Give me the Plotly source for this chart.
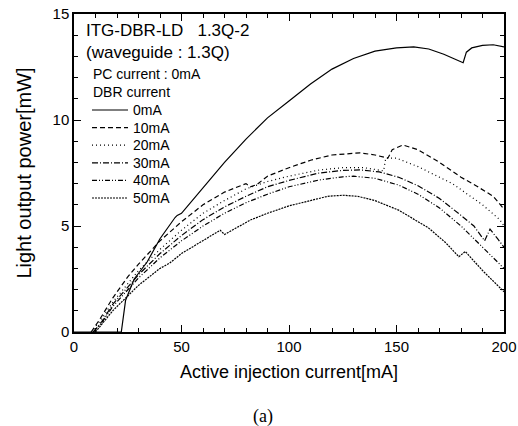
import plotly.graph_objects as go

# ---- data ----
x_0mA = [0, 22, 24, 28, 34, 40, 47, 48, 50, 55, 60, 70, 80, 90, 100, 110, 120, 130, 140, 150, 158, 165, 172, 178, 181, 182.5, 185, 190, 195, 200]
y_0mA = [0, 0, 1.5, 2.5, 3.3, 4.4, 5.4, 5.5, 5.6, 6.2, 6.8, 8.0, 9.1, 10.1, 10.9, 11.7, 12.4, 12.9, 13.25, 13.4, 13.45, 13.35, 13.1, 12.85, 12.7, 13.2, 13.4, 13.52, 13.55, 13.45]

x_10mA = [8, 12, 18, 25, 30, 40, 50, 60, 70, 77, 80, 82, 85, 90, 100, 110, 120, 133, 140, 146, 148, 153, 160, 170, 180, 187, 195, 200]
y_10mA = [0, 0.6, 1.6, 2.6, 3.2, 4.3, 5.2, 6.0, 6.6, 6.9, 7.0, 6.85, 6.95, 7.35, 7.75, 8.1, 8.35, 8.45, 8.35, 8.2, 8.6, 8.82, 8.6, 8.0, 7.3, 6.9, 6.4, 5.8]

x_20mA = [8, 12, 18, 25, 30, 40, 50, 60, 70, 80, 90, 100, 114, 125, 135, 144, 145, 150, 160, 176, 190, 198, 200]
y_20mA = [0, 0.5, 1.4, 2.3, 2.9, 3.9, 4.8, 5.6, 6.2, 6.75, 7.1, 7.35, 7.64, 7.75, 7.75, 7.6, 8.2, 8.2, 7.8, 7.0, 6.0, 5.3, 5.0]

x_30mA = [9, 13, 18, 25, 30, 40, 50, 60, 70, 80, 90, 100, 114, 125, 133, 142, 151, 160, 170, 180, 186, 191, 193.5, 197, 200]
y_30mA = [0, 0.5, 1.3, 2.1, 2.7, 3.7, 4.55, 5.3, 5.9, 6.4, 6.85, 7.15, 7.5, 7.62, 7.65, 7.55, 7.3, 6.9, 6.3, 5.5, 5.0, 4.3, 4.85, 4.4, 4.0]

x_40mA = [9, 13, 18, 25, 30, 40, 50, 60, 70, 80, 90, 100, 114, 125, 130, 140, 151, 160, 170, 180, 190, 200]
y_40mA = [0, 0.45, 1.2, 2.0, 2.55, 3.5, 4.3, 5.0, 5.6, 6.1, 6.5, 6.85, 7.17, 7.32, 7.35, 7.25, 6.93, 6.5, 5.85, 5.0, 4.0, 3.0]

x_50mA = [10, 14, 18, 25, 30, 40, 44.5, 50, 60, 68, 70, 82, 90, 100, 110, 118, 125, 132, 140, 151, 165, 173, 179, 182, 190, 200]
y_50mA = [0, 0.5, 1.0, 1.7, 2.2, 3.0, 3.25, 3.7, 4.3, 4.8, 4.6, 5.28, 5.6, 5.95, 6.2, 6.4, 6.45, 6.4, 6.2, 5.75, 4.9, 4.2, 3.55, 3.8, 2.9, 1.9]

series_names = ["0mA", "10mA", "20mA", "30mA", "40mA", "50mA"]
series_x = [x_0mA, x_10mA, x_20mA, x_30mA, x_40mA, x_50mA]
series_y = [y_0mA, y_10mA, y_20mA, y_30mA, y_40mA, y_50mA]
dashes = ["solid", "5px,3px", "1px,3px", "6px,2px,1px,2px", "5px,2px,1px,2px,1px,2px", "2px,1px"]

FONT = "Liberation Sans, Arial, sans-serif"

fig = go.Figure()
for name, xs, ys, dash in zip(series_names, series_x, series_y, dashes):
    fig.add_trace(go.Scatter(x=xs, y=ys, mode="lines", name=name, showlegend=False,
                             line=dict(color="black", width=1.2, dash=dash)))

axis_common = dict(
    showline=True, linecolor="black", linewidth=1.5, mirror="ticks",
    ticks="inside", ticklen=7, tickwidth=1.2, tickcolor="black",
    showgrid=False, zeroline=False, automargin=False,
    tickfont=dict(family=FONT, size=15, color="black"),
)

fig.update_xaxes(range=[0, 200], dtick=50, tick0=0,
                 minor=dict(ticks="inside", ticklen=4, dtick=10, tickcolor="black", showgrid=False),
                 title=dict(text="Active injection current[mA]", font=dict(family=FONT, size=18, color="black"), standoff=12),
                 **axis_common)
fig.update_yaxes(range=[0, 15], dtick=5, tick0=0,
                 minor=dict(ticks="inside", ticklen=4, dtick=1, tickcolor="black", showgrid=False),
                 title=dict(text="Light output power[mW]", font=dict(family=FONT, size=20, color="black"), standoff=16),
                 **axis_common)

# plot-area geometry in pixels (for placing the in-plot legend/header text)
L, T, W, H = 74, 14, 430, 318
def px(xp):
    return (xp - L) / W
def py(yp):
    return (T + H - yp) / H

def note(text, xp, yp, size=14, family=FONT):
    fig.add_annotation(text=text, xref="paper", yref="paper", x=px(xp), y=py(yp),
                       xanchor="left", yanchor="middle", showarrow=False,
                       font=dict(family=family, size=size, color="black"))

note("ITG-DBR-LD&nbsp;&nbsp;&nbsp;1.3Q-2", 84, 31, size=17)
note("(waveguide : 1.3Q)", 84, 53, size=17)
note("PC current : 0mA", 91, 74)
note("DBR current", 91, 92)

# legend: line samples + labels
row0, step = 110, 17.6
for i, (name, dash) in enumerate(zip(series_names, dashes)):
    yc = row0 + i * step
    fig.add_shape(type="line", xref="paper", yref="paper",
                  x0=px(92), x1=px(128), y0=py(yc), y1=py(yc),
                  line=dict(color="black", width=1.2, dash=dash))
    note(name, 131, yc)

fig.add_annotation(text="(a)", xref="paper", yref="paper", x=px(263), y=py(416),
                   xanchor="center", yanchor="middle", showarrow=False,
                   font=dict(family="Liberation Serif, Times New Roman, serif", size=18, color="black"))

fig.update_layout(
    width=518, height=426,
    margin=dict(l=L, r=518 - L - W, t=T, b=426 - T - H),
    paper_bgcolor="white", plot_bgcolor="white",
    showlegend=False,
)

fig.write_html("out.html")
